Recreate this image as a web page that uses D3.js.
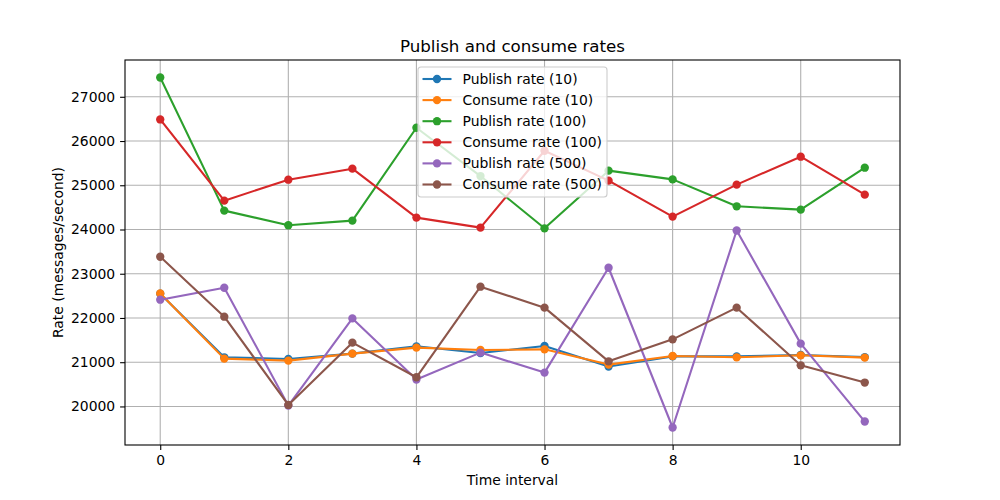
<!DOCTYPE html>
<html>
<head>
<meta charset="utf-8">
<script src="https://cdn.jsdelivr.net/npm/d3@7"></script>
<style>
  body { margin: 0; background: #fff; }
  svg { font-family: "DejaVu Sans", sans-serif; }
</style>
</head>
<body>
<svg width="1000" height="500"></svg>
<script>
'use strict';

// time intervals on the x axis
var intervals = [0, 1, 2, 3, 4, 5, 6, 7, 8, 9, 10, 11];

var publish10 = [22550, 21111, 21072, 21194, 21359, 21208, 21366, 20901, 21131, 21131, 21163, 21115];
var consume10 = [22555, 21081, 21036, 21194, 21330, 21275, 21291, 20946, 21140, 21111, 21156, 21104];
var publish100 = [27436, 24427, 24095, 24201, 26300, 25208, 24027, 25330, 25133, 24524, 24449, 25397];
var consume100 = [26488, 24652, 25126, 25375, 24269, 24043, 25781, 25104, 24291, 25014, 25646, 24788];
var publish500 = [22413, 22684, 20020, 21990, 20607, 21217, 20765, 23135, 19524, 23977, 21420, 19659];
var consume500 = [23384, 22029, 20034, 21442, 20659, 22707, 22233, 21020, 21517, 22233, 20930, 20540];

var seriesNames = ['Publish rate (10)', 'Consume rate (10)', 'Publish rate (100)',
    'Consume rate (100)', 'Publish rate (500)', 'Consume rate (500)'];
var seriesValues = [publish10, consume10, publish100, consume100, publish500, consume500];
var colors = ['#1f77b4', '#ff7f0e', '#2ca02c', '#d62728', '#9467bd', '#8c564b'];

var xTicks = [0, 2, 4, 6, 8, 10];
var yTicks = [20000, 21000, 22000, 23000, 24000, 25000, 26000, 27000];

var M = { left: 125, right: 900, top: 60, bottom: 445 };
var FONT = '13.9px';

var svg = d3.select('svg');

// matplotlib style 5% margins around the data
var xPad = (d3.max(intervals) - d3.min(intervals)) * 0.05;
var allVals = d3.merge(seriesValues);
var yMin = d3.min(allVals), yMax = d3.max(allVals);
var yPad = (yMax - yMin) * 0.05;

var x = d3.scaleLinear()
    .domain([d3.min(intervals) - xPad, d3.max(intervals) + xPad])
    .range([M.left, M.right]);
var y = d3.scaleLinear()
    .domain([yMin - yPad, yMax + yPad])
    .range([M.bottom, M.top]);

//grid
var grid = svg.append('g').attr('class', 'grid');
grid.selectAll('line.gx')
    .data(xTicks)
    .enter()
    .append('line')
    .attr('x1', function(d) { return x(d); })
    .attr('x2', function(d) { return x(d); })
    .attr('y1', M.top)
    .attr('y2', M.bottom)
    .attr('stroke', '#b0b0b0')
    .attr('stroke-width', 1.1);
grid.selectAll('line.gy')
    .data(yTicks)
    .enter()
    .append('line')
    .attr('x1', M.left)
    .attr('x2', M.right)
    .attr('y1', function(d) { return y(d); })
    .attr('y2', function(d) { return y(d); })
    .attr('stroke', '#b0b0b0')
    .attr('stroke-width', 1.1);

//lines and markers
var line = d3.line()
    .x(function(d, i) { return x(intervals[i]); })
    .y(function(d) { return y(d); });

var lines = svg.append('g').attr('class', 'series');
seriesValues.forEach(function(vals, k) {
    var g = lines.append('g');
    g.append('path')
        .datum(vals)
        .attr('fill', 'none')
        .attr('stroke', colors[k])
        .attr('stroke-width', 2.1)
        .attr('stroke-linejoin', 'round')
        .attr('stroke-linecap', 'square')
        .attr('d', line);
    g.selectAll('circle')
        .data(vals)
        .enter()
        .append('circle')
        .attr('cx', function(d, i) { return x(intervals[i]); })
        .attr('cy', function(d) { return y(d); })
        .attr('r', 4.17)
        .attr('fill', colors[k]);
});

//axes
var axisX = d3.axisBottom(x).tickValues(xTicks).tickSizeOuter(0).tickSize(4.9).tickPadding(4.9);
var axisY = d3.axisLeft(y).tickValues(yTicks).tickFormat(d3.format('d')).tickSizeOuter(0).tickSize(4.9).tickPadding(4.9);

var gx = svg.append('g')
    .attr('transform', 'translate(0,' + M.bottom + ')')
    .call(axisX);
var gy = svg.append('g')
    .attr('transform', 'translate(' + M.left + ',0)')
    .call(axisY);
[gx, gy].forEach(function(g) {
    g.select('.domain').remove();
    g.selectAll('line').attr('stroke', '#000').attr('stroke-width', 1.1);
    g.selectAll('text')
        .attr('fill', '#000')
        .style('font-family', '"DejaVu Sans", sans-serif')
        .style('font-size', FONT);
});

//frame
svg.append('rect')
    .attr('x', M.left)
    .attr('y', M.top)
    .attr('width', M.right - M.left)
    .attr('height', M.bottom - M.top)
    .attr('fill', 'none')
    .attr('stroke', '#000')
    .attr('stroke-width', 1.1);

//labels
svg.append('text')
    .attr('x', (M.left + M.right) / 2)
    .attr('y', 52)
    .attr('text-anchor', 'middle')
    .style('font-size', '16.7px')
    .text('Publish and consume rates');
svg.append('text')
    .attr('x', (M.left + M.right) / 2)
    .attr('y', 485)
    .attr('text-anchor', 'middle')
    .style('font-size', FONT)
    .text('Time interval');
svg.append('text')
    .attr('transform', 'translate(63,' + ((M.top + M.bottom) / 2) + ') rotate(-90)')
    .attr('text-anchor', 'middle')
    .style('font-size', FONT)
    .text('Rate (messages/second)');

//legend
var legend = svg.append('g').attr('transform', 'translate(418,67)');
legend.append('rect')
    .attr('width', 189)
    .attr('height', 130)
    .attr('rx', 3)
    .attr('fill', 'rgba(255,255,255,0.8)')
    .attr('stroke', '#cccccc')
    .attr('stroke-width', 1.1);
var items = legend.selectAll('g.item')
    .data(seriesNames)
    .enter()
    .append('g')
    .attr('transform', function(d, i) { return 'translate(0,' + (12 + i * 21.1) + ')'; });
items.append('line')
    .attr('x1', 4.5)
    .attr('x2', 33.5)
    .attr('stroke', function(d, i) { return colors[i]; })
    .attr('stroke-width', 2.1);
items.append('circle')
    .attr('cx', 19)
    .attr('r', 4.17)
    .attr('fill', function(d, i) { return colors[i]; });
items.append('text')
    .attr('x', 44.5)
    .attr('dy', '0.35em')
    .style('font-size', FONT)
    .text(function(d) { return d; });
</script>
</body>
</html>
